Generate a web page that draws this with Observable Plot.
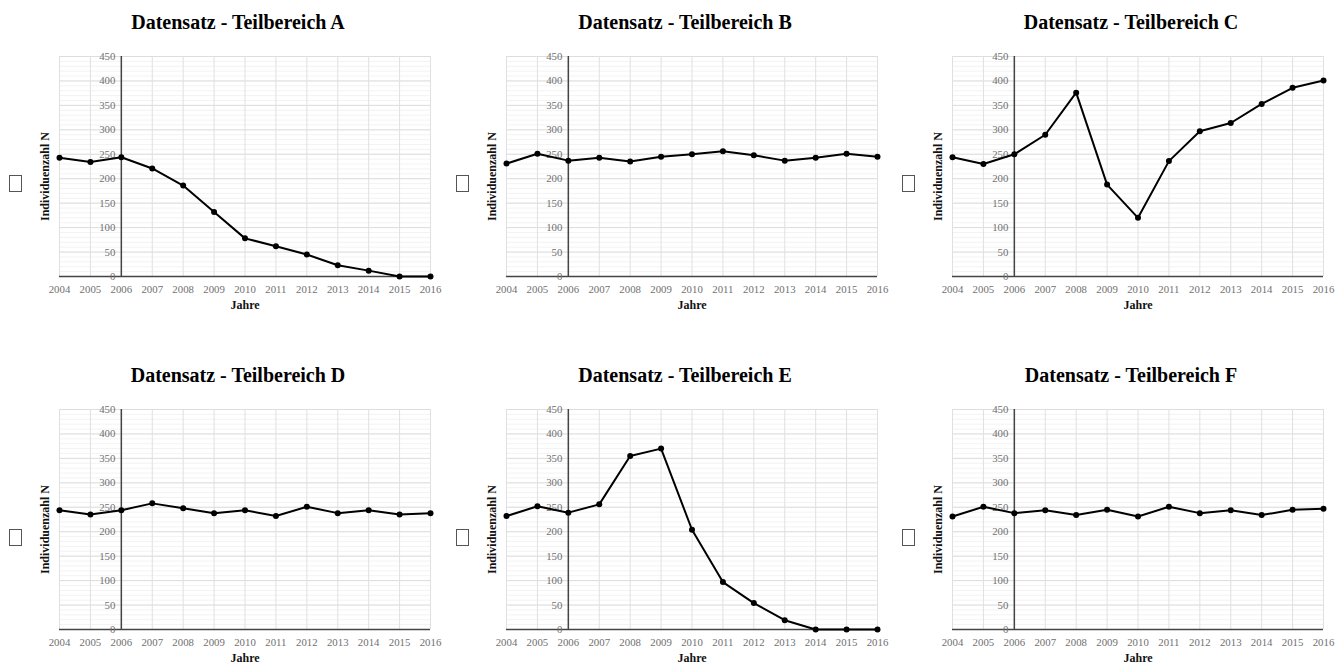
<!DOCTYPE html>
<html><head><meta charset="utf-8">
<script src="https://cdn.jsdelivr.net/npm/d3@7"></script>
<script src="https://cdn.jsdelivr.net/npm/@observablehq/plot@0.6"></script>
<style>
body{margin:0;background:#fff;}
#root{position:relative;width:1343px;height:669px;overflow:hidden;font-family:"Liberation Serif","Times New Roman",serif;background:#fff;}
.title{position:absolute;font-weight:bold;font-size:20px;color:#000;white-space:nowrap;transform:translate(-50%,-50%);}
.box{position:absolute;width:11px;height:15px;border:1px solid #555;background:#fff;}
.panel{position:absolute;}
</style></head><body><div id="root"></div>
<script>
const years = [2004, 2005, 2006, 2007, 2008, 2009, 2010, 2011, 2012, 2013, 2014, 2015, 2016];
const yTicks = [0, 50, 100, 150, 200, 250, 300, 350, 400, 450];
const axisYear = 2006;
const titles = ["Datensatz - Teilbereich A", "Datensatz - Teilbereich B", "Datensatz - Teilbereich C",
                "Datensatz - Teilbereich D", "Datensatz - Teilbereich E", "Datensatz - Teilbereich F"];
const valuesA = [243, 234, 244, 221, 186, 132, 78, 62, 45, 23, 12, 0, 0];
const valuesB = [231, 251, 237, 243, 235, 245, 250, 256, 248, 237, 243, 251, 245];
const valuesC = [244, 230, 250, 290, 376, 188, 120, 236, 297, 314, 353, 386, 401];
const valuesD = [244, 235, 244, 258, 248, 238, 244, 232, 251, 238, 244, 235, 238];
const valuesE = [232, 252, 239, 256, 355, 370, 204, 97, 54, 19, 0, 0, 0];
const valuesF = [231, 251, 238, 244, 234, 245, 231, 251, 238, 244, 234, 245, 247];
const series = [valuesA, valuesB, valuesC, valuesD, valuesE, valuesF];
const xLabel = "Jahre";
const yLabel = "Individuenzahl N";

const minorTicks = d3.range(0, 451, 10);
const root = document.getElementById("root");
const lefts = [0, 447, 893];
const rows = [
  {svgTop: 40, marginTop: 16, titleY: 22, boxTop: 175},
  {svgTop: 390, marginTop: 19, titleY: 375, boxTop: 529}
];

function chart(values, marginTop) {
  const data = years.map((year, i) => ({year, value: values[i]}));
  return Plot.plot({
    width: 450, height: marginTop + 220 + 45,
    marginLeft: 59, marginRight: 20, marginTop, marginBottom: 45,
    x: {domain: [2004, 2016]},
    y: {domain: [0, 450], axis: null},
    style: {fontFamily: "'Liberation Serif', 'Times New Roman', serif", fontSize: "10.8px", background: "transparent", overflow: "visible"},
    marks: [
      Plot.gridY(minorTicks, {stroke: "#f3f3f3", strokeOpacity: 1}),
      Plot.gridY(yTicks, {stroke: "#dddddd", strokeOpacity: 1}),
      Plot.gridX(years, {stroke: "#e0e0e0", strokeOpacity: 1}),
      Plot.ruleX([axisYear], {stroke: "#444", strokeWidth: 1.5}),
      Plot.ruleY([0], {stroke: "#444", strokeWidth: 1.5}),
      Plot.text(yTicks, {x: axisYear, y: d => d, text: d => String(d), textAnchor: "end", dx: -6, fill: "#707070"}),
      Plot.axisX(years, {tickSize: 0, tickPadding: 9, tickFormat: d => String(d), fill: "#707070", label: null}),
      Plot.text([xLabel], {frameAnchor: "bottom", dy: 32, fontWeight: "bold", fontSize: 12, fill: "#111"}),
      Plot.text([yLabel], {frameAnchor: "left", textAnchor: "middle", rotate: -90, dx: -14, dy: 10, fontWeight: "bold", fontSize: 12, fill: "#111"}),
      Plot.line(data, {x: "year", y: "value", stroke: "#000", strokeWidth: 2}),
      Plot.dot(data, {x: "year", y: "value", r: 3, fill: "#000"})
    ]
  });
}

series.forEach((values, i) => {
  const row = rows[Math.floor(i / 3)];
  const left = lefts[i % 3];
  const div = document.createElement("div");
  div.className = "panel";
  div.style.left = left + "px";
  div.style.top = row.svgTop + "px";
  div.appendChild(chart(values, row.marginTop));
  root.appendChild(div);
  const t = document.createElement("div");
  t.className = "title";
  t.textContent = titles[i];
  t.style.left = (left + 238) + "px";
  t.style.top = row.titleY + "px";
  root.appendChild(t);
  const b = document.createElement("div");
  b.className = "box";
  b.style.left = (left + 9) + "px";
  b.style.top = row.boxTop + "px";
  root.appendChild(b);
});
</script></body></html>
